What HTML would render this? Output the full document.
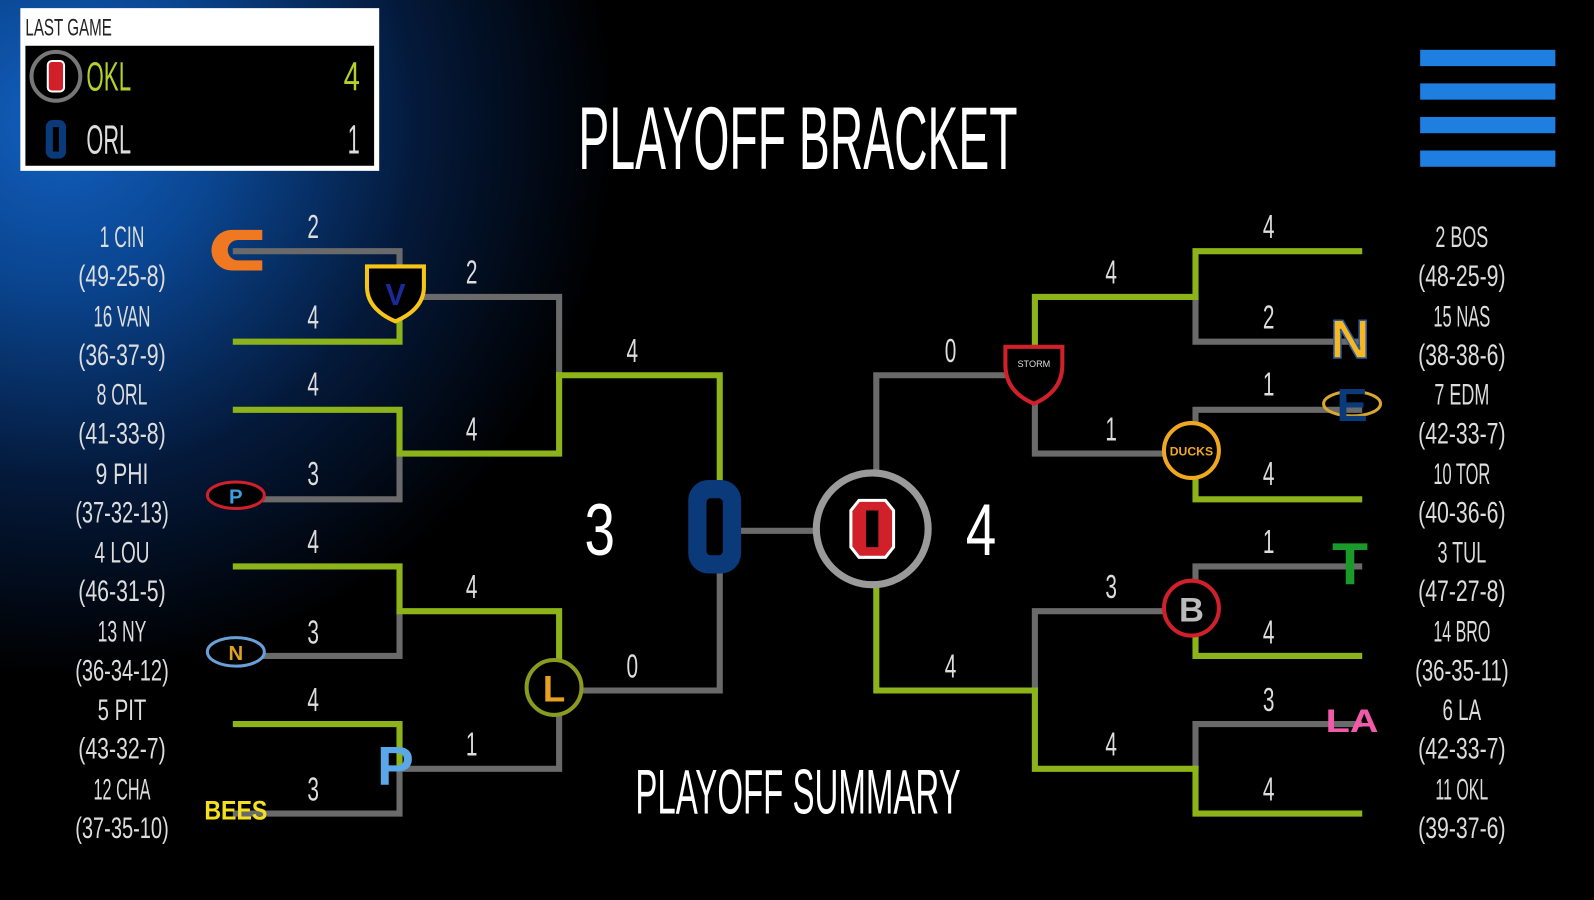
<!DOCTYPE html>
<html><head><meta charset="utf-8"><style>
html,body{margin:0;padding:0;width:1594px;height:900px;overflow:hidden;background:#000}
svg{display:block}
text{font-family:"Liberation Sans Narrow","Liberation Sans",sans-serif}
.s text{transform:scaleX(.62);transform-box:fill-box;transform-origin:center}
</style></head><body>
<svg width="1594" height="900" viewBox="0 0 1568 885" preserveAspectRatio="none" xmlns="http://www.w3.org/2000/svg">
<defs>
<radialGradient id="bg" cx="60" cy="120" r="640" gradientUnits="userSpaceOnUse">
<stop offset="0" stop-color="#1260c0"/><stop offset="0.25" stop-color="#0a4590"/><stop offset="0.55" stop-color="#04193a"/><stop offset="0.85" stop-color="#000"/></radialGradient>
</defs>
<rect width="1568" height="885" fill="#000"/>
<rect width="1568" height="885" fill="url(#bg)"/>

<rect x="20" y="8" width="353" height="160" fill="#fff"/>
<rect x="25" y="45" width="343" height="118" fill="#000"/>
<text x="25" y="35" font-size="24" fill="#222" textLength="85" lengthAdjust="spacingAndGlyphs">LAST GAME</text>
<circle cx="55" cy="75" r="24" fill="none" stroke="#777" stroke-width="4"/>
<rect x="47" y="60" width="16" height="30" rx="4" fill="#d0202a" stroke="#fff" stroke-width="2"/>
<text x="85" y="89" font-size="40" fill="#b3d12a" textLength="44" lengthAdjust="spacingAndGlyphs">OKL</text>
<text x="346" y="89" font-size="40" fill="#b3d12a" text-anchor="middle" textLength="16" lengthAdjust="spacingAndGlyphs">4</text>
<rect x="45" y="118" width="20" height="38" rx="7" fill="#0a3a7a"/>
<rect x="52" y="125" width="6" height="24" fill="#000"/>
<text x="85" y="151" font-size="40" fill="#ddd" textLength="44" lengthAdjust="spacingAndGlyphs">ORL</text>
<text x="348" y="151" font-size="40" fill="#ddd" text-anchor="middle" textLength="12" lengthAdjust="spacingAndGlyphs">1</text>

<g fill="#1e7fe0"><rect x="1397" y="49" width="133" height="16"/><rect x="1397" y="82" width="133" height="16"/><rect x="1397" y="115" width="133" height="16"/><rect x="1397" y="148" width="133" height="16"/></g>

<text x="785" y="166" font-size="88" fill="#fff" text-anchor="middle" textLength="432" lengthAdjust="spacingAndGlyphs">PLAYOFF BRACKET</text>
<text x="785" y="800" font-size="62" fill="#fff" text-anchor="middle" textLength="320" lengthAdjust="spacingAndGlyphs">PLAYOFF SUMMARY</text>

<g fill="none" stroke-width="6" stroke-linecap="square">
<path d="M232 247H393V290" stroke="#6a6a6a"/>
<path d="M232 336H393V292" stroke="#8db31a"/>
<path d="M232 403H393V446" stroke="#8db31a"/>
<path d="M232 491H393V446" stroke="#6a6a6a"/>
<path d="M232 557H393V601" stroke="#8db31a"/>
<path d="M232 645H393V601" stroke="#6a6a6a"/>
<path d="M232 712H393V756" stroke="#8db31a"/>
<path d="M232 800H393V756" stroke="#6a6a6a"/>
<path d="M393 292H550V369" stroke="#6a6a6a"/>
<path d="M393 446H550V369" stroke="#8db31a"/>
<path d="M393 601H550V679" stroke="#8db31a"/>
<path d="M393 756H550V679" stroke="#6a6a6a"/>
<path d="M550 369H708V520" stroke="#8db31a"/>
<path d="M550 679H708V520" stroke="#6a6a6a"/>
<path d="M708 522H862" stroke="#6a6a6a"/>
<path d="M1337 247H1176V292" stroke="#8db31a"/>
<path d="M1337 336H1176V294" stroke="#6a6a6a"/>
<path d="M1337 403H1176V446" stroke="#6a6a6a"/>
<path d="M1337 491H1176V446" stroke="#8db31a"/>
<path d="M1337 557H1176V601" stroke="#6a6a6a"/>
<path d="M1337 645H1176V601" stroke="#8db31a"/>
<path d="M1337 712H1176V756" stroke="#6a6a6a"/>
<path d="M1337 800H1176V756" stroke="#8db31a"/>
<path d="M1176 292H1018V369" stroke="#8db31a"/>
<path d="M1176 446H1018V369" stroke="#6a6a6a"/>
<path d="M1176 601H1018V679" stroke="#6a6a6a"/>
<path d="M1176 756H1018V679" stroke="#8db31a"/>
<path d="M1018 369H862V520" stroke="#6a6a6a"/>
<path d="M1018 679H862V520" stroke="#8db31a"/>
</g>

<rect x="677" y="472" width="52" height="92" rx="20" fill="#0a3a7a"/>
<rect x="695" y="490" width="16" height="56" rx="4" fill="#000"/>
<circle cx="858" cy="520" r="55" fill="#000" stroke="#9a9a9a" stroke-width="7"/>
<path d="M845 492h26l8 10v36l-8 10h-26l-8-10v-36z" fill="#d0202a" stroke="#fff" stroke-width="3"/>
<rect x="852" y="502" width="12" height="36" fill="#000"/>
<text x="590" y="546" font-size="72" fill="#fff" text-anchor="middle" textLength="30" lengthAdjust="spacingAndGlyphs">3</text>
<text x="965" y="546" font-size="72" fill="#fff" text-anchor="middle" textLength="30" lengthAdjust="spacingAndGlyphs">4</text>

<g class="s" font-size="33" fill="#ddd" text-anchor="middle">
<text x="308" y="234">2</text><text x="308" y="323">4</text><text x="308" y="389">4</text><text x="308" y="477">3</text>
<text x="308" y="544">4</text><text x="308" y="633">3</text><text x="308" y="699">4</text><text x="308" y="787">3</text>
<text x="464" y="279">2</text><text x="464" y="433">4</text><text x="464" y="588">4</text><text x="464" y="743">1</text>
<text x="622" y="356">4</text><text x="622" y="666">0</text>
<text x="1248" y="234">4</text><text x="1248" y="323">2</text><text x="1248" y="389">1</text><text x="1248" y="477">4</text>
<text x="1248" y="544">1</text><text x="1248" y="633">4</text><text x="1248" y="699">3</text><text x="1248" y="787">4</text>
<text x="1093" y="279">4</text><text x="1093" y="433">1</text><text x="1093" y="588">3</text><text x="1093" y="743">4</text>
<text x="935" y="356">0</text><text x="935" y="666">4</text>
</g>

<g font-size="29" fill="#ddd" text-anchor="middle">
<text x="120" y="243" textLength="44" lengthAdjust="spacingAndGlyphs">1 CIN</text>
<text x="120" y="281" textLength="86" lengthAdjust="spacingAndGlyphs">(49-25-8)</text>
<text x="120" y="321" textLength="56" lengthAdjust="spacingAndGlyphs">16 VAN</text>
<text x="120" y="359" textLength="86" lengthAdjust="spacingAndGlyphs">(36-37-9)</text>
<text x="120" y="398" textLength="50" lengthAdjust="spacingAndGlyphs">8 ORL</text>
<text x="120" y="436" textLength="86" lengthAdjust="spacingAndGlyphs">(41-33-8)</text>
<text x="120" y="476" textLength="52" lengthAdjust="spacingAndGlyphs">9 PHI</text>
<text x="120" y="514" textLength="92" lengthAdjust="spacingAndGlyphs">(37-32-13)</text>
<text x="120" y="553" textLength="54" lengthAdjust="spacingAndGlyphs">4 LOU</text>
<text x="120" y="591" textLength="86" lengthAdjust="spacingAndGlyphs">(46-31-5)</text>
<text x="120" y="631" textLength="48" lengthAdjust="spacingAndGlyphs">13 NY</text>
<text x="120" y="669" textLength="92" lengthAdjust="spacingAndGlyphs">(36-34-12)</text>
<text x="120" y="708" textLength="48" lengthAdjust="spacingAndGlyphs">5 PIT</text>
<text x="120" y="746" textLength="86" lengthAdjust="spacingAndGlyphs">(43-32-7)</text>
<text x="120" y="786" textLength="56" lengthAdjust="spacingAndGlyphs">12 CHA</text>
<text x="120" y="824" textLength="92" lengthAdjust="spacingAndGlyphs">(37-35-10)</text>
<text x="1438" y="243" textLength="52" lengthAdjust="spacingAndGlyphs">2 BOS</text>
<text x="1438" y="281" textLength="86" lengthAdjust="spacingAndGlyphs">(48-25-9)</text>
<text x="1438" y="321" textLength="56" lengthAdjust="spacingAndGlyphs">15 NAS</text>
<text x="1438" y="359" textLength="86" lengthAdjust="spacingAndGlyphs">(38-38-6)</text>
<text x="1438" y="398" textLength="54" lengthAdjust="spacingAndGlyphs">7 EDM</text>
<text x="1438" y="436" textLength="86" lengthAdjust="spacingAndGlyphs">(42-33-7)</text>
<text x="1438" y="476" textLength="56" lengthAdjust="spacingAndGlyphs">10 TOR</text>
<text x="1438" y="514" textLength="86" lengthAdjust="spacingAndGlyphs">(40-36-6)</text>
<text x="1438" y="553" textLength="48" lengthAdjust="spacingAndGlyphs">3 TUL</text>
<text x="1438" y="591" textLength="86" lengthAdjust="spacingAndGlyphs">(47-27-8)</text>
<text x="1438" y="631" textLength="56" lengthAdjust="spacingAndGlyphs">14 BRO</text>
<text x="1438" y="669" textLength="92" lengthAdjust="spacingAndGlyphs">(36-35-11)</text>
<text x="1438" y="708" textLength="38" lengthAdjust="spacingAndGlyphs">6 LA</text>
<text x="1438" y="746" textLength="86" lengthAdjust="spacingAndGlyphs">(42-33-7)</text>
<text x="1438" y="786" textLength="52" lengthAdjust="spacingAndGlyphs">11 OKL</text>
<text x="1438" y="824" textLength="86" lengthAdjust="spacingAndGlyphs">(39-37-6)</text>
</g>

<path d="M258 226h-30a20 20 0 0 0 0 40h30v-10h-24a10 10 0 0 1 0-20h24z" fill="#f07820"/>
<path d="M361 262h56v20q0 22-28 34q-28-12-28-34z" fill="#000" stroke="#f5c518" stroke-width="4"/>
<text x="389" y="300" font-size="30" font-weight="bold" fill="#1a2a9a" text-anchor="middle">V</text>
<ellipse cx="232" cy="487" rx="28" ry="13" fill="#000" stroke="#d0202a" stroke-width="3"/>
<text x="232" y="495" font-size="20" font-weight="bold" fill="#3aa0e0" text-anchor="middle">P</text>
<ellipse cx="232" cy="641" rx="28" ry="14" fill="#000" stroke="#6aa0d8" stroke-width="3"/>
<text x="232" y="649" font-size="20" font-weight="bold" fill="#e0a020" text-anchor="middle">N</text>
<text x="232" y="806" font-size="26" font-weight="bold" fill="#f5e020" text-anchor="middle" textLength="62" lengthAdjust="spacingAndGlyphs">BEES</text>
<text x="389" y="772" font-size="54" font-weight="bold" fill="#5aa8e8" text-anchor="middle">P</text>
<circle cx="545" cy="676" r="27" fill="#000" stroke="#8a9a20" stroke-width="4"/>
<text x="545" y="690" font-size="36" font-weight="bold" fill="#e8a020" text-anchor="middle">L</text>
<path d="M989 341h56v18q0 26-28 38q-28-12-28-38z" fill="#000" stroke="#d0202a" stroke-width="4"/>
<text x="1017" y="361" font-size="9" fill="#ddd" text-anchor="middle">STORM</text>
<circle cx="1172" cy="443" r="27" fill="#000" stroke="#f0a820" stroke-width="4"/>
<text x="1172" y="448" font-size="12" font-weight="bold" fill="#f0a820" text-anchor="middle">DUCKS</text>
<text x="1328" y="352" font-size="54" font-weight="bold" fill="#f5b820" stroke="#2a5aa0" stroke-width="1.5" text-anchor="middle">N</text>
<ellipse cx="1330" cy="397" rx="28" ry="12" fill="none" stroke="#d8a830" stroke-width="3"/>
<text x="1330" y="414" font-size="46" font-weight="bold" fill="#0a3a7a" text-anchor="middle">E</text>
<text x="1328" y="575" font-size="58" font-weight="bold" fill="#1a9a2a" text-anchor="middle">T</text>
<circle cx="1172" cy="598" r="27" fill="#000" stroke="#d0202a" stroke-width="4"/>
<text x="1172" y="611" font-size="34" font-weight="bold" fill="#bbb" text-anchor="middle">B</text>
<text x="1330" y="720" font-size="32" font-weight="bold" fill="#f05aa8" text-anchor="middle" textLength="52" lengthAdjust="spacingAndGlyphs">LA</text>
</svg>
</body></html>
